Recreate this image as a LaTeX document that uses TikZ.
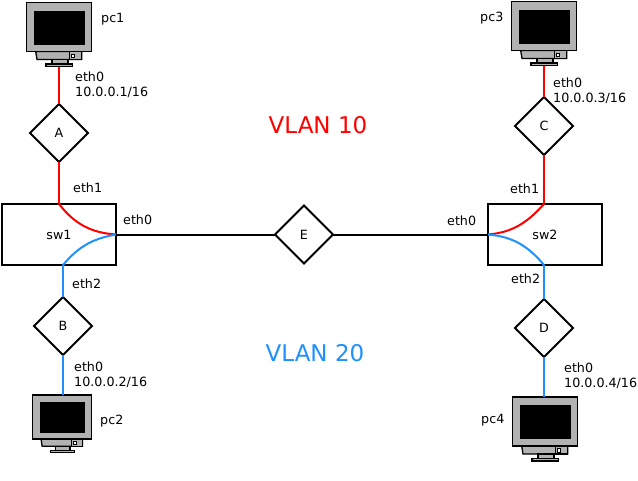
\documentclass[tikz,border=0pt]{standalone}
\usepackage{fontspec}
\setmainfont{DejaVu Sans}
\usetikzlibrary{shapes.geometric}
\definecolor{vlanblue}{HTML}{1E90FF}
\tikzset{
	x=1pt, y=-1pt,
	port/.style={draw, line width=2pt, shape=diamond, minimum width=58pt, minimum height=58pt, inner sep=0pt, outer sep=0pt, font=\fontsize{12.7}{15.5}\selectfont},
	swbox/.style={draw, line width=2pt, minimum width=114pt, minimum height=61pt, inner sep=0pt, outer sep=0pt, font=\fontsize{12.7}{15.5}\selectfont},
	lbl/.style={anchor=west, align=left, inner sep=0pt, font=\fontsize{12.7}{15.5}\selectfont},
	vlan/.style={inner sep=0pt, font=\fontsize{23}{26}\selectfont},
	redlink/.style={draw=red, line width=2pt},
	bluelink/.style={draw=vlanblue, line width=2pt},
	pics/computer/.style={code={
		\path[draw, fill=black!30, line width=1.3pt] (-23.3,49) -- (22.7,49) -- (22.7,57) -- (-22,57) -- cycle;
		\path[draw, fill=black!30, line width=1.3pt] (10.3,49) rectangle (22.7,57);
		\path[draw, fill=white, line width=1pt] (12.3,51.5) rectangle (15.8,55);
		\path[draw, fill=black!30, line width=1.3pt] (-7,57) rectangle (9,61.5);
		\path[draw, fill=black!30, line width=1.3pt] (-13,61.5) rectangle (13.7,64);
		\path[draw, fill=black!30, line width=1.3pt] (-32.5,0) rectangle (32.5,49);
		\path[fill=black] (-25,8) rectangle (26,42);
		\coordinate (-top) at (0,0);
		\coordinate (-foot) at (0,64);
	}}
}
\begin{document}
\begin{tikzpicture}
\useasboundingbox (0,0) rectangle (638,480);
\pic (pc1) at (59,2.5) {computer};
\pic[scale=.9] (pc2) at (62,395) {computer};
\pic (pc3) at (544,1.5) {computer};
\pic (pc4) at (545,397) {computer};
\node[swbox] (sw1) at (59,234.5) {sw1};
\node[swbox] (sw2) at (545,234.5) {sw2};
\foreach \n/\x/\y in {A/59/133, B/63/326, C/544/126, D/544/328, E/304/234.5}{
	\node[port] (\n) at (\x,\y) {\n};
}
% vlan 10
\draw[redlink] (pc1-foot) -- (A.north);
\draw[redlink] (A.south) -- (A |- sw1.north);
\draw[redlink] (A |- sw1.north) to[out=-52,in=176] (sw1.east);
\draw[redlink] (pc3-foot) -- (C.north);
\draw[redlink] (C.south) -- (C |- sw2.north);
\draw[redlink] (C |- sw2.north) to[out=-132,in=5] (sw2.west);
% vlan 20
\draw[bluelink] (B |- pc2-top) -- (B.south);
\draw[bluelink] (B.north) -- (B |- sw1.south);
\draw[bluelink] (B |- sw1.south) to[out=50,in=190] (sw1.east);
\draw[bluelink] (D |- pc4-top) -- (D.south);
\draw[bluelink] (D.north) -- (D |- sw2.south);
\draw[bluelink] (D |- sw2.south) to[out=130,in=-5] (sw2.west);
% trunk
\draw[line width=2pt] (sw1.east) -- (E.west);
\draw[line width=2pt] (E.east) -- (sw2.west);
\foreach \n/\x/\y/\t in {l1/101/19/pc1, l2/100/421/pc2, l3/480/18/pc3, l4/481/420/pc4,
	l5/73/188/eth1, l6/123/220/eth0, l7/72/284/eth2,
	l8/510/189/eth1, l9/447/221/eth0, l10/511/279/eth2}{
	\node[lbl] (\n) at (\x,\y) {\t};
}
\node[lbl] (a1) at (75,85) {eth0\\10.0.0.1/16};
\node[lbl] (a2) at (74,375) {eth0\\10.0.0.2/16};
\node[lbl] (a3) at (553,91) {eth0\\10.0.0.3/16};
\node[lbl] (a4) at (564,376) {eth0\\10.0.0.4/16};
\node[vlan, text=red] (v10) at (318,125) {VLAN 10};
\node[vlan, text=vlanblue] (v20) at (315,353) {VLAN 20};
\end{tikzpicture}
\end{document}
